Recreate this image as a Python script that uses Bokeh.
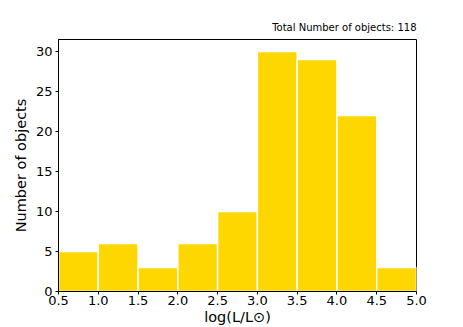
from bokeh.plotting import figure
from bokeh.embed import file_html
from bokeh.resources import INLINE
from bokeh.models import Range1d, FixedTicker, PrintfTickFormatter

bin_edges = [0.5, 1.0, 1.5, 2.0, 2.5, 3.0, 3.5, 4.0, 4.5, 5.0]
counts = [5, 6, 3, 6, 10, 30, 29, 22, 3]
total_label = "Total Number of objects: 118"
x_ticks = [0.5, 1.0, 1.5, 2.0, 2.5, 3.0, 3.5, 4.0, 4.5, 5.0]
y_ticks = [0, 5, 10, 15, 20, 25, 30]

p = figure(width=463, height=327, output_backend="svg", toolbar_location=None,
           x_range=Range1d(0.5, 5.0), y_range=Range1d(0, 31.5),
           min_border_left=58, min_border_right=47, min_border_top=39, min_border_bottom=36)

p.quad(left=bin_edges[:-1], right=bin_edges[1:], bottom=0, top=counts,
       fill_color="#FFD700", line_color="white", line_width=1.5)

p.title.text = total_label
p.title.align = "right"
p.title.text_font = "DejaVu Sans"
p.title.text_font_size = "10px"
p.title.text_font_style = "normal"
p.title.text_color = "black"
p.title.standoff = 14

p.xgrid.visible = False
p.ygrid.visible = False
p.outline_line_color = "black"
p.outline_line_width = 1

for ax in (p.xaxis[0], p.yaxis[0]):
    ax.major_label_text_font = "DejaVu Sans"
    ax.major_label_text_font_size = "13px"
    ax.major_label_text_color = "black"
    ax.axis_label_text_font = "DejaVu Sans"
    ax.axis_label_text_font_size = "14.5px"
    ax.axis_label_text_font_style = "normal"
    ax.axis_label_text_color = "black"
    ax.minor_tick_line_color = None
    ax.major_tick_in = 0
    ax.major_tick_out = 3
    ax.axis_line_color = "black"
    ax.major_tick_line_color = "black"

p.xaxis.ticker = FixedTicker(ticks=x_ticks)
p.yaxis.ticker = FixedTicker(ticks=y_ticks)
p.xaxis.formatter = PrintfTickFormatter(format="%.1f")
p.xaxis.axis_label = "log(L/L⊙)"
p.yaxis.axis_label = "Number of objects"
p.xaxis.axis_label_standoff = 1
p.yaxis.axis_label_standoff = 4
p.xaxis.major_label_standoff = 1
p.yaxis.major_label_standoff = 3

open("out.html", "w").write(file_html(p, INLINE))
